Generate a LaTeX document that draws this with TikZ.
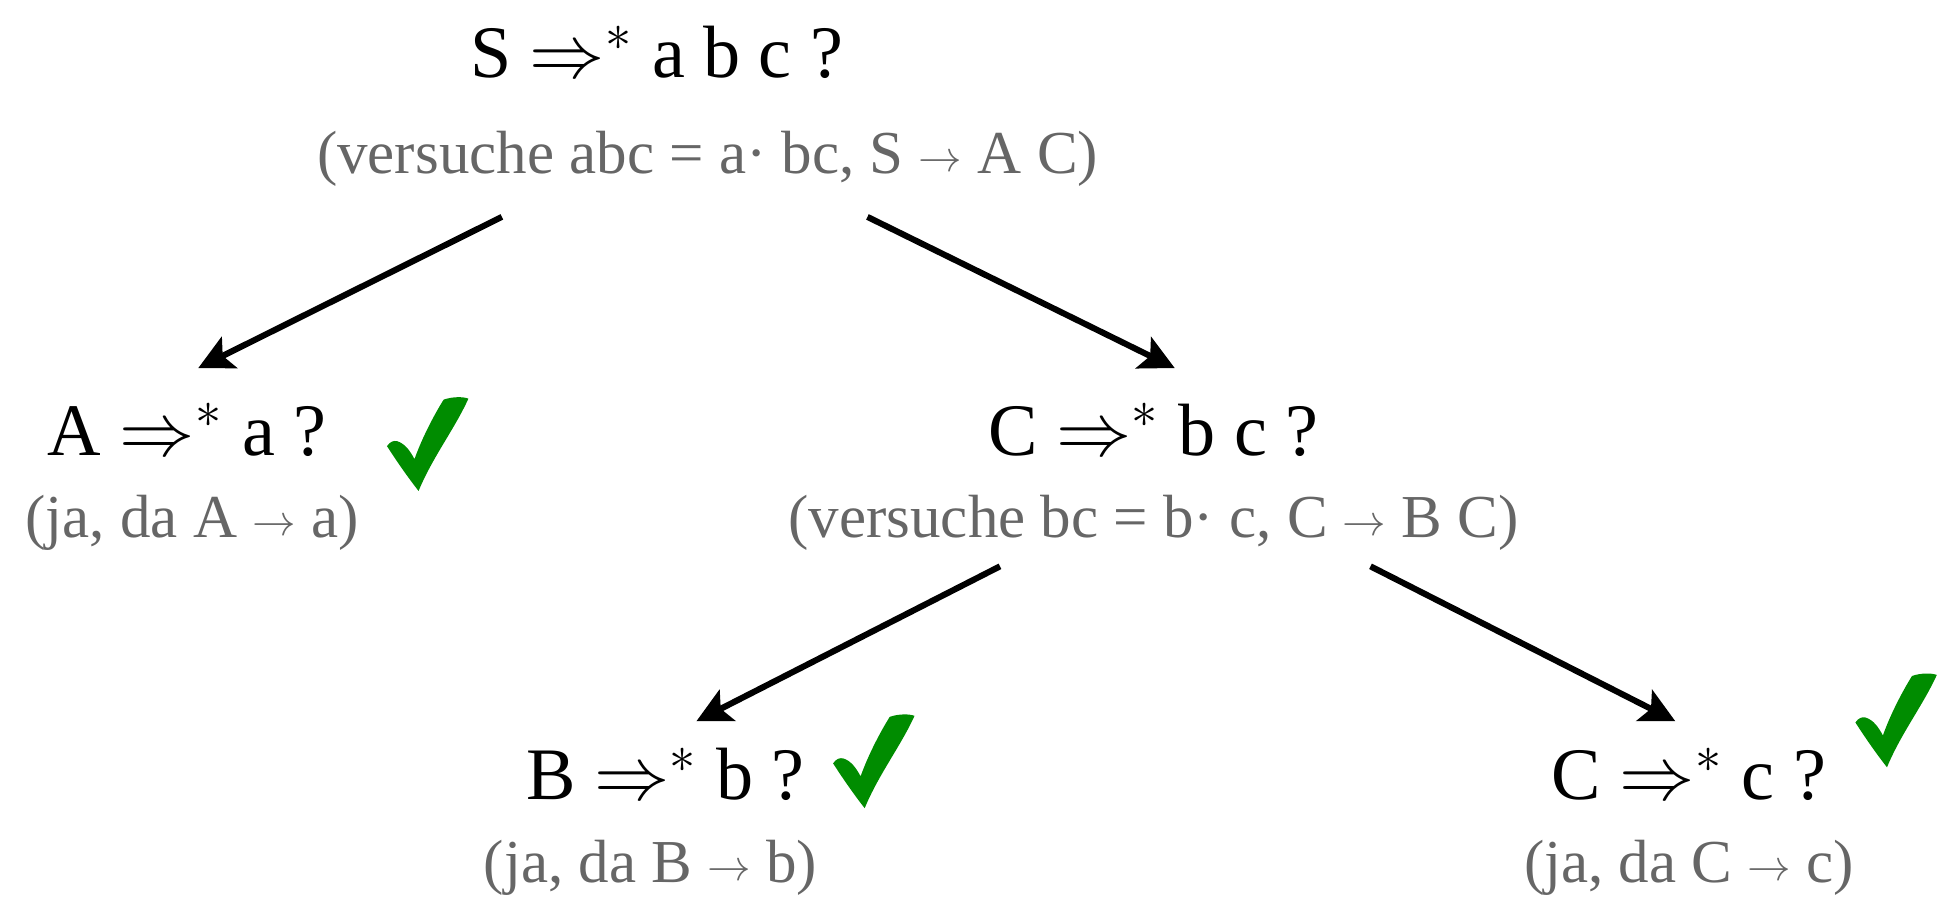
\documentclass[tikz,border=0pt]{standalone}
\usepackage{fontspec}
\setmainfont{Liberation Serif}
\usetikzlibrary{arrows.meta,positioning,calc}
\definecolor{notegray}{RGB}{102,102,102}
\definecolor{tickgreen}{RGB}{0,140,0}
\newcommand{\rewrites}{\raisebox{0.4pt}{\fontsize{10}{11}\selectfont$\rightarrow$}}

\tikzset{
    checkmark/.pic={
        \fill[tickgreen] (-32.7,1) .. controls (-30,-3) and (-27,-3.5) .. (-24.6,-3)
            .. controls (-18,-1) and (-14,5) .. (-10.5,11.5)
            .. controls (-5,-4) and (4,-22) .. (13,-36.5)
            .. controls (20,-39) and (29,-39) .. (33,-37.3)
            .. controls (22,-13) and (4,10) .. (-7.2,37.2)
            .. controls (-16,26) and (-25,13) .. cycle;
    }
}

\begin{document}
\begin{tikzpicture}[
        x=0.01cm,y=-0.01cm,
        node distance=3mm,
        goal/.style={inner sep=0pt,font=\fontsize{17}{20}\selectfont},
        note/.style={inner sep=0pt,text=notegray,font=\fontsize{14}{17}\selectfont},
        arrow/.style={-{Stealth[length=2.8mm,width=2.8mm,inset=0.6mm]},line width=1.4pt}
    ]
        \useasboundingbox (0,0) rectangle (1568,729);
        % goals
        \node[goal] (s) at (530,42) {S $\Rightarrow^{*}$ a b c ?};
        \node[goal] (a) at (151,347) {A $\Rightarrow^{*}$ a ?};
        \node[goal] (c) at (931,347) {C $\Rightarrow^{*}$ b c ?};
        \node[goal] (b) at (537,625) {B $\Rightarrow^{*}$ b ?};
        \node[goal] (cc) at (1363,625) {C $\Rightarrow^{*}$ c ?};
        % notes under the goals
        \node[note,below=4.1mm of s,xshift=4.1mm] (sinfo) {(versuche abc = a· bc, S \rewrites{} A C)};
        \node[note,below=of a,xshift=0.4mm] (ainfo) {(ja, da A \rewrites{} a)};
        \node[note,below=of c] (cinfo) {(versuche bc = b· c, C \rewrites{} B C)};
        \node[note,below=of b,xshift=-1.2mm] (binfo) {(ja, da B \rewrites{} b)};
        \node[note,below=of cc] (ccinfo) {(ja, da C \rewrites{} c)};
        % ticks
        \pic (ta) at (345,359) {checkmark};
        \pic (tb) at (705,615) {checkmark};
        \pic (tcc) at (1530,582) {checkmark};
        % arrows
        \draw[arrow] ($(sinfo)+(-166,47)$) -- ($(a)+(9,-50)$);
        \draw[arrow] ($(sinfo)+(129,47)$) -- ($(c)+(17,-50)$);
        \draw[arrow] ($(cinfo)+(-124,35)$) -- ($(b)+(25,-43)$);
        \draw[arrow] ($(cinfo)+(175,35)$) -- ($(cc)+(-11,-43)$);
    \end{tikzpicture}
\end{document}
